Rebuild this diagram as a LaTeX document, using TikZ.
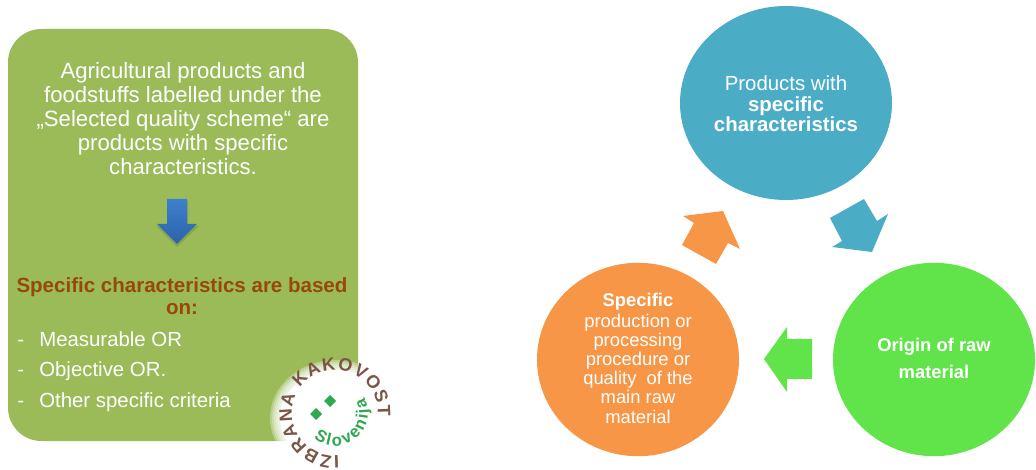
\documentclass[tikz,border=0pt]{standalone}
\usepackage{fontspec}
\setmainfont{Liberation Sans}
\usetikzlibrary{decorations.text}
\definecolor{panelgreen}{HTML}{9BBB59}
\definecolor{circblue}{HTML}{4BACC6}
\definecolor{circgreen}{HTML}{61E34A}
\definecolor{circorange}{HTML}{F79646}
\definecolor{headbrown}{HTML}{984807}
\definecolor{logobrown}{HTML}{7A5548}
\definecolor{logogreen}{HTML}{2FA84F}
\definecolor{arrowtop}{HTML}{3D80CC}
\definecolor{arrowbot}{HTML}{2C62AC}
\tikzset{
  x=0.75pt,y=-0.75pt,
  panelline/.style={text=white,font=\fontsize{16.6}{17}\selectfont,inner sep=0pt,anchor=base},
  headline/.style={text=headbrown,font=\fontsize{15.4}{16}\selectfont\bfseries,inner sep=0pt,anchor=base},
  listline/.style={text=white,font=\fontsize{15.3}{16}\selectfont,inner sep=0pt,anchor=base west},
  bluetext/.style={text=white,font=\fontsize{15.3}{16}\selectfont,inner sep=0pt,anchor=base},
  bluebold/.style={bluetext,font=\fontsize{15.3}{16}\selectfont\bfseries},
  oratext/.style={text=white,font=\fontsize{13.8}{14}\selectfont,inner sep=0pt,anchor=base},
  orabold/.style={oratext,font=\fontsize{13.8}{14}\selectfont\bfseries},
  grnbold/.style={text=white,font=\fontsize{13.8}{14}\selectfont\bfseries,inner sep=0pt,anchor=base},
}
\begin{document}
\begin{tikzpicture}
\useasboundingbox (0,0) rectangle (1036,470);
% panel
\fill[panelgreen,rounded corners=25pt] (8,29) rectangle (358,441);
\node[panelline] (p1) at (183,79) {Agricultural products and};
\node[panelline] (p2) at (183,103) {foodstuffs labelled under the};
\node[panelline] (p3) at (183,127) {„Selected quality scheme“ are};
\node[panelline] (p4) at (183,151) {products with specific};
\node[panelline] (p5) at (183,175) {characteristics.};
% down arrow
\fill[black,opacity=.12] (168,201) -- (188,201) -- (188,226) -- (199,226) -- (177,247) -- (156,226) -- (168,226) -- cycle;
\shade[top color=arrowtop,bottom color=arrowbot] (167,199) -- (187,199) -- (187,224) -- (197,224) -- (177,244) -- (157,224) -- (167,224) -- cycle;
\node[headline] (h1) at (182,293) {Specific characteristics are based};
\node[headline] (h2) at (182,315) {on:};
\node[listline] (d1) at (17,347) {-};
\node[listline] (l1) at (39,347) {Measurable OR};
\node[listline] (d2) at (17,377) {-};
\node[listline] (l2) at (39,377) {Objective OR.};
\node[listline] (d3) at (17,407) {-};
\node[listline] (l3) at (39,407) {Other specific criteria};
% logo glow
\foreach \r in {10,8,...,0}{\fill[white,opacity=.3] (336,418) ellipse[x radius=56+\r,y radius=48+\r];}
\fill[white] (336,418) ellipse[x radius=56,y radius=48];
\begin{scope}[shift={(335,413)},y=0.75pt]
\path[decorate,decoration={text along path,text align={fit to path},
  text={|\fontsize{13.5}{14}\selectfont\bfseries\color{logobrown}|IZBRANA KAKOVOST}}]
  (-85:43) arc[start angle=275,end angle=-5,radius=43];
\path[decorate,decoration={text along path,text align={fit to path},
  text={|\fontsize{12.5}{13}\selectfont\bfseries\color{logogreen}|Slovenija}}]
  (-130:33) arc[start angle=-130,end angle=28,radius=33];
\end{scope}
\fill[logogreen] (330,395) -- (336,401) -- (330,407) -- (324,401) -- cycle;
\fill[logogreen] (316,408) -- (322,414) -- (316,420) -- (310,414) -- cycle;
% circles
\fill[circblue] (786,103) ellipse[x radius=106,y radius=97];
\fill[circgreen] (934,359.5) ellipse[x radius=101,y radius=96.7];
\fill[circorange] (638,359.5) ellipse[x radius=101,y radius=96.7];
% arrows
\fill[circblue] (864,199) -- (877,221) -- (888,214) -- (872,252) -- (832,247) -- (842,241) -- (830,218) -- cycle;
\fill[circorange] (723,211) -- (740,249) -- (728,243) -- (716,264) -- (682,245) -- (694,223) -- (683,216) -- cycle;
\fill[circgreen] (787,327) -- (764,359) -- (787,392) -- (787,379) -- (812,379) -- (812,339) -- (787,339) -- cycle;
% circle text
\node[bluetext] (b1) at (786,91) {Products with};
\node[bluebold] (b2) at (786,112) {specific};
\node[bluebold] (b3) at (786,132) {characteristics};
\node[orabold] (o1) at (638,307) {Specific};
\node[oratext] (o2) at (638,328) {production or};
\node[oratext] (o3) at (638,347) {processing};
\node[oratext] (o4) at (638,366) {procedure or};
\node[oratext] (o5) at (638,385) {quality\ \ of the};
\node[oratext] (o6) at (638,404) {main raw};
\node[oratext] (o7) at (638,423) {material};
\node[grnbold] (g1) at (934,352) {Origin of raw};
\node[grnbold] (g2) at (934,379) {material};
\end{tikzpicture}
\end{document}
